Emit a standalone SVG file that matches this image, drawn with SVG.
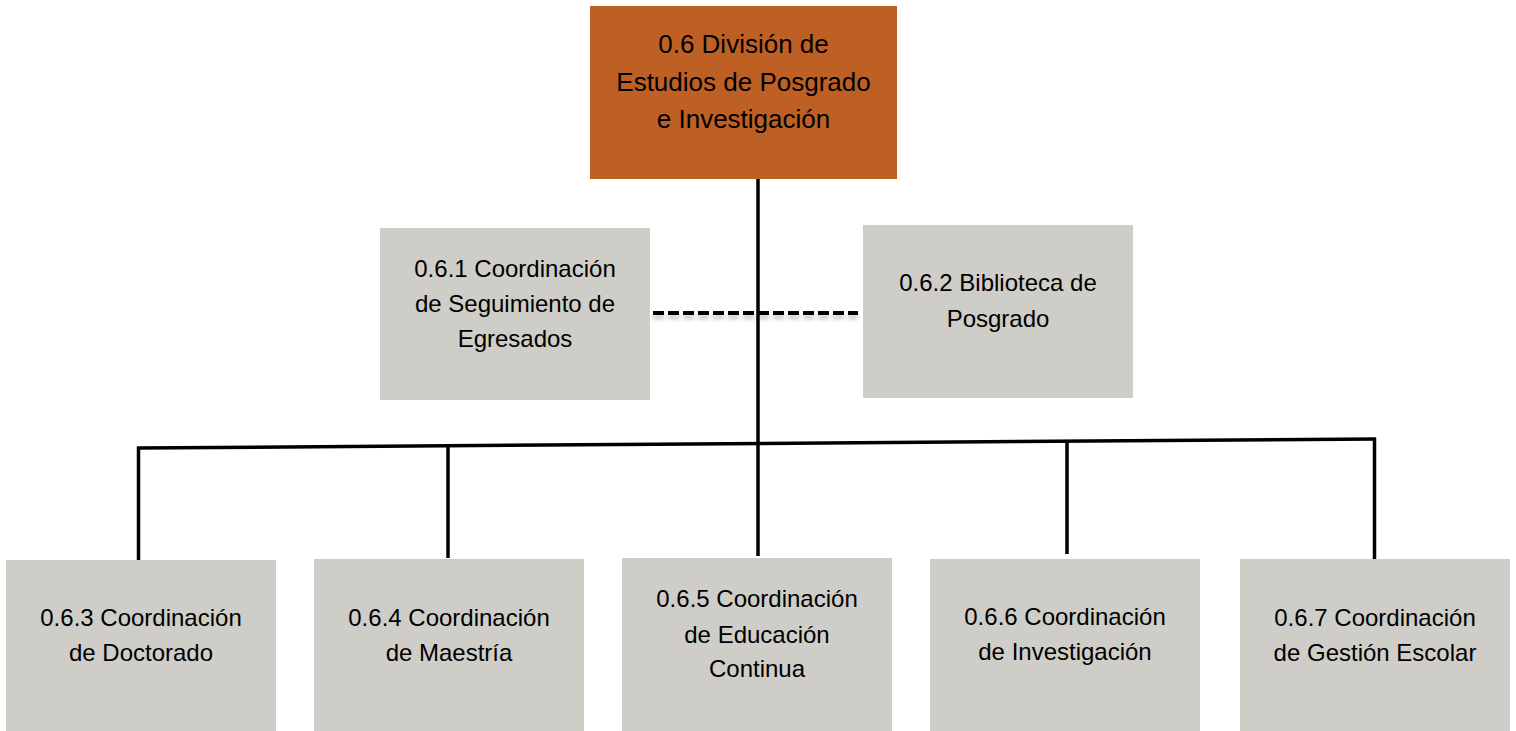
<svg xmlns="http://www.w3.org/2000/svg" width="1516" height="731" viewBox="0 0 1516 731">
<style>
.box{fill:#CFCDC8}
.top{fill:#BE5F24}
.t{font-family:"Liberation Sans",Arial,sans-serif;font-size:24px;fill:#000;text-anchor:middle}
.tt{font-family:"Liberation Sans",Arial,sans-serif;font-size:26px;fill:#000;text-anchor:middle}
.ln{stroke:#000;stroke-width:3.5;fill:none}
.dash{stroke:#000;stroke-width:4;stroke-dasharray:11 4;fill:none}
</style>
<defs>
<filter id="sh" filterUnits="userSpaceOnUse" x="640" y="300" width="230" height="30">
<feGaussianBlur in="SourceAlpha" stdDeviation="2"/>
<feOffset dy="4"/>
<feComponentTransfer><feFuncA type="linear" slope="0.25"/></feComponentTransfer>
<feMerge><feMergeNode/><feMergeNode in="SourceGraphic"/></feMerge>
</filter>
</defs>
<rect width="1516" height="731" fill="#fff"/>
<g id="connectors">
<line class="ln" x1="758" y1="179" x2="758" y2="556"/>
<line class="dash" x1="653" y1="313" x2="858" y2="313" filter="url(#sh)"/>
<line class="ln" x1="137" y1="448" x2="1376" y2="439"/>
<line class="ln" x1="138.5" y1="447" x2="138.5" y2="560"/>
<line class="ln" x1="448" y1="446" x2="448" y2="558"/>
<line class="ln" x1="1067" y1="441" x2="1067" y2="554"/>
<line class="ln" x1="1374.5" y1="438" x2="1374.5" y2="559"/>
</g>
<g id="n06">
<rect class="top" x="590" y="6" width="307" height="173"/>
<text class="tt" x="743.5" y="53">0.6 División de</text>
<text class="tt" x="743.5" y="91">Estudios de Posgrado</text>
<text class="tt" x="743.5" y="128">e Investigación</text>
</g>
<g id="n061">
<rect class="box" x="380" y="228" width="270" height="172"/>
<text class="t" x="515" y="277">0.6.1 Coordinación</text>
<text class="t" x="515" y="312">de Seguimiento de</text>
<text class="t" x="515" y="347">Egresados</text>
</g>
<g id="n062">
<rect class="box" x="863" y="225" width="270" height="173"/>
<text class="t" x="998" y="291">0.6.2 Biblioteca de</text>
<text class="t" x="998" y="327">Posgrado</text>
</g>
<g id="n063">
<rect class="box" x="6" y="560" width="270" height="171"/>
<text class="t" x="141" y="626">0.6.3 Coordinación</text>
<text class="t" x="141" y="661">de Doctorado</text>
</g>
<g id="n064">
<rect class="box" x="314" y="559" width="270" height="172"/>
<text class="t" x="449" y="626">0.6.4 Coordinación</text>
<text class="t" x="449" y="661">de Maestría</text>
</g>
<g id="n065">
<rect class="box" x="622" y="558" width="270" height="173"/>
<text class="t" x="757" y="607">0.6.5 Coordinación</text>
<text class="t" x="757" y="643">de Educación</text>
<text class="t" x="757" y="677">Continua</text>
</g>
<g id="n066">
<rect class="box" x="930" y="559" width="270" height="172"/>
<text class="t" x="1065" y="625">0.6.6 Coordinación</text>
<text class="t" x="1065" y="660">de Investigación</text>
</g>
<g id="n067">
<rect class="box" x="1240" y="559" width="270" height="172"/>
<text class="t" x="1375" y="626">0.6.7 Coordinación</text>
<text class="t" x="1375" y="661">de Gestión Escolar</text>
</g>
</svg>
